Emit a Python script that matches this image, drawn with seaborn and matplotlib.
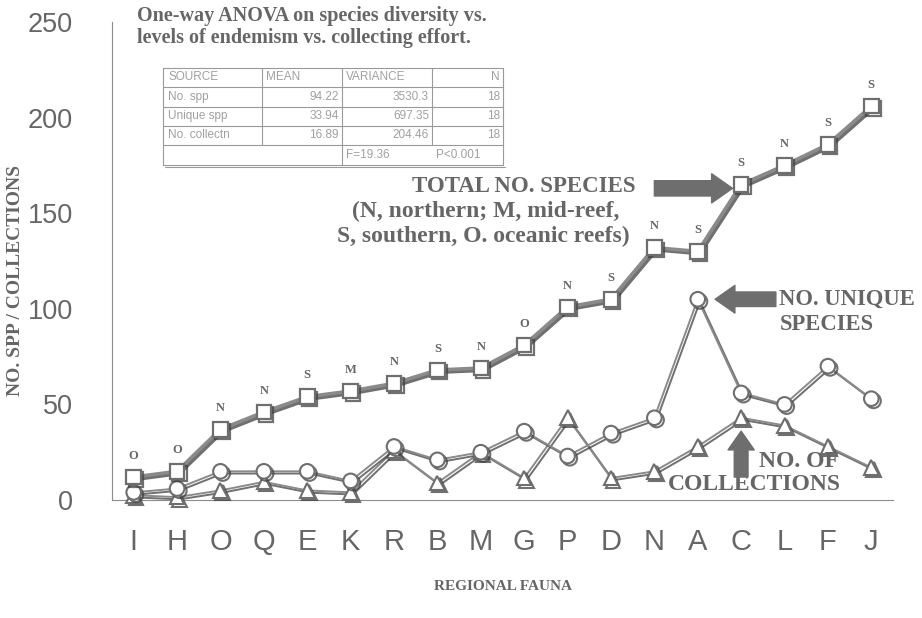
import numpy as np
import pandas as pd
import seaborn as sns
import matplotlib
matplotlib.use("Agg")
import matplotlib.pyplot as plt
import matplotlib.patheffects as pe
from matplotlib.lines import Line2D
from matplotlib.ticker import FixedLocator

# ---------------- data ----------------
regions = ["I", "H", "O", "Q", "E", "K", "R", "B", "M", "G", "P", "D", "N", "A", "C", "L", "F", "J"]
total_species = [12, 15, 37, 46, 54, 57, 61, 68, 69, 81, 101, 105, 132, 130, 165, 175, 186, 206]
unique_species = [4, 6, 15, 15, 15, 10, 28, 21, 25, 36, 23, 35, 43, 105, 56, 50, 70, 53]
collections = [2.5, 1.5, 5, 9.5, 5, 4, 26, 9, 25, 11.5, 43, 11.5, 15, 28, 43, 39, 28, 17]
zone_codes = ["O", "O", "N", "N", "S", "M", "N", "S", "N", "O", "N", "S", "N", "S", "S", "N", "S", "S"]
y_ticks = [0, 50, 100, 150, 200, 250]

table_header = ["SOURCE", "MEAN", "VARIANCE", "N"]
table_sources = ["No. spp", "Unique spp", "No. collectn"]
table_means = ["94.22", "33.94", "16.89"]
table_vars = ["3530.3", "697.35", "204.46"]
table_n = ["18", "18", "18"]
anova_f = "F=19.36"
anova_p = "P<0.001"

# ---------------- style ----------------
sns.set_style("white")
plt.rcParams["font.family"] = ["Liberation Sans", "DejaVu Sans"]
SERIF = ["Liberation Serif", "DejaVu Serif"]

W, H = 922, 618
def fx(x):
    return x / W
def fy(y):
    return 1 - y / H

line_gray = "#8a8a8a"
edge_gray = "#6e6e6e"
text_gray = "#666666"
shadow_col = "#404040"

fig = plt.figure(figsize=(W / 100, H / 100), dpi=100)
ax = fig.add_axes([fx(112), fy(500), (893 - 112) / W, (500 - 22) / H])

df = pd.DataFrame({"region": regions, "total": total_species,
                   "unique": unique_species, "coll": collections})

common = dict(data=df, x="region", order=regions, ax=ax, errorbar=None)
sns.pointplot(y="coll", color=line_gray, markers="^", markersize=10.5,
              markerfacecolor="white", markeredgecolor=edge_gray,
              markeredgewidth=1.5, linewidth=1.4, **common)
sns.pointplot(y="unique", color=line_gray, markers="o", markersize=10.5,
              markerfacecolor="white", markeredgecolor=edge_gray,
              markeredgewidth=1.5, linewidth=1.4, **common)
sns.pointplot(y="total", color=line_gray, markers="s", markersize=10.5,
              markerfacecolor="white", markeredgecolor=edge_gray,
              markeredgewidth=1.6, linewidth=2.6, **common)

for i, ln in enumerate(ax.lines):
    ln.set_clip_on(False)
    ln.set_path_effects([pe.SimpleLineShadow(offset=(1.6, -1.6), shadow_color=shadow_col, alpha=0.75),
                         pe.Normal()])
    ln.set_zorder(3 + i)

# zone labels above total-species squares
for i, code in enumerate(zone_codes):
    ax.annotate(code, (i, total_species[i]), xytext=(0, 11), textcoords="offset points",
                ha="center", va="bottom", fontsize=9, fontweight="bold",
                family=SERIF, color=text_gray)

# ---------------- axes ----------------
ax.set_ylim(0, 250)
ax.set_xlim(-0.5, len(regions) - 0.5)
ax.set_yticks(y_ticks)
ax.xaxis.set_minor_locator(FixedLocator(np.arange(-0.5, len(regions), 1.0)))
ax.tick_params(axis="x", which="major", length=0, labelsize=21, pad=20, labelcolor=text_gray)
ax.tick_params(axis="x", which="minor", length=9, width=0.8, color="#8c8c8c", direction="out")
ax.tick_params(axis="y", length=6, width=0.8, color="#8c8c8c", direction="out",
               labelsize=19.5, pad=22, labelcolor=text_gray)
for s in ["top", "right"]:
    ax.spines[s].set_visible(False)
for s in ["left", "bottom"]:
    ax.spines[s].set_color("#8c8c8c")
    ax.spines[s].set_linewidth(0.8)
ax.grid(False)

ax.set_ylabel("NO. SPP / COLLECTIONS", family=SERIF, fontweight="bold",
              fontsize=14, color=text_gray)
ax.yaxis.set_label_coords(-0.113, 0.46)
ax.set_xlabel("REGIONAL FAUNA", family=SERIF, fontweight="bold", fontsize=11, color=text_gray)
ax.xaxis.set_label_coords(0.5, -0.168)

# ---------------- annotations ----------------
ann_kw = dict(family=SERIF, fontweight="bold", color=text_gray)
ax.text(9.0, 164, "TOTAL NO. SPECIES", ha="center", va="center", fontsize=16.5, **ann_kw)
ax.text(11.2, 151, "(N, northern; M, mid-reef,", ha="right", va="center", fontsize=17, **ann_kw)
ax.text(11.43, 138, "S, southern, O. oceanic reefs)", ha="right", va="center", fontsize=17, **ann_kw)
ax.text(14.88, 105, "NO. UNIQUE", ha="left", va="center", fontsize=16.3, **ann_kw)
ax.text(14.88, 92, "SPECIES", ha="left", va="center", fontsize=16.3, **ann_kw)
ax.text(14.42, 20, "NO. OF", ha="left", va="center", fontsize=17, **ann_kw)
ax.text(14.3, 8, "COLLECTIONS", ha="center", va="center", fontsize=17, **ann_kw)

arrow_col = "#6e6e6e"
astyle = "simple,head_length=0.75,head_width=1.05,tail_width=0.55"
ax.annotate("", xy=(13.8, 163), xytext=(12.0, 163),
            arrowprops=dict(arrowstyle=astyle, color=arrow_col, mutation_scale=20,
                            shrinkA=0, shrinkB=0))
ax.annotate("", xy=(13.4, 105), xytext=(14.8, 105),
            arrowprops=dict(arrowstyle=astyle, color=arrow_col, mutation_scale=19,
                            shrinkA=0, shrinkB=0))
ax.annotate("", xy=(14.0, 36), xytext=(14.0, 12),
            arrowprops=dict(arrowstyle=astyle, color=arrow_col, mutation_scale=18,
                            shrinkA=0, shrinkB=0))

# title text
fig.text(fx(137), fy(16), "One-way ANOVA on species diversity vs.", ha="left", va="center",
         fontsize=14.5, **ann_kw)
fig.text(fx(137), fy(38), "levels of endemism vs. collecting effort.", ha="left", va="center",
         fontsize=14.5, **ann_kw)

# ---------------- ANOVA table ----------------
tcol = "#a0a0a0"
tx = [163, 262, 342, 432, 503]
ty = [68, 87, 107, 126, 145, 165]
def seg(x0, y0, x1, y1):
    fig.add_artist(Line2D([fx(x0), fx(x1)], [fy(y0), fy(y1)], transform=fig.transFigure,
                          color="#9a9a9a", lw=0.8))
for y in ty:
    seg(tx[0], y, tx[-1], y)
seg(tx[0], ty[0], tx[0], ty[-1])
seg(tx[-1], ty[0], tx[-1], ty[-1])
seg(tx[2], ty[0], tx[2], ty[-1])
seg(tx[1], ty[0], tx[1], ty[-2])
seg(tx[3], ty[0], tx[3], ty[-2])
seg(tx[0] + 2, ty[-1] + 1.5, tx[-1] + 2, ty[-1] + 1.5)

tkw = dict(fontsize=8.5, color=tcol, va="center")
yc = (ty[0] + ty[1]) / 2
fig.text(fx(tx[0] + 5), fy(yc), table_header[0], ha="left", **tkw)
fig.text(fx(tx[1] + 4), fy(yc), table_header[1], ha="left", **tkw)
fig.text(fx(tx[2] + 4), fy(yc), table_header[2], ha="left", **tkw)
fig.text(fx(tx[4] - 3), fy(yc), table_header[3], ha="right", **tkw)
for r in range(3):
    yc = (ty[r + 1] + ty[r + 2]) / 2
    fig.text(fx(tx[0] + 5), fy(yc), table_sources[r], ha="left", **tkw)
    fig.text(fx(tx[2] - 3), fy(yc), table_means[r], ha="right", **tkw)
    fig.text(fx(tx[3] - 3), fy(yc), table_vars[r], ha="right", **tkw)
    fig.text(fx(tx[4] - 3), fy(yc), table_n[r], ha="right", **tkw)
yc = (ty[4] + ty[5]) / 2
fig.text(fx(tx[2] + 4), fy(yc), anova_f, ha="left", **tkw)
fig.text(fx(tx[3] + 4), fy(yc), anova_p, ha="left", **tkw)

fig.savefig("out.png", dpi=100, facecolor="white")
